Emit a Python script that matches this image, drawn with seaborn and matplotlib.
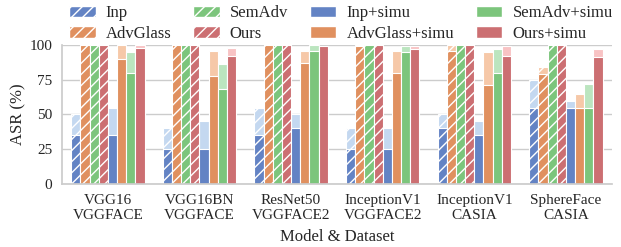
import pandas as pd
import matplotlib
matplotlib.use("Agg")
import matplotlib.pyplot as plt
import seaborn as sns
from matplotlib.patches import Patch

# --- Data ---
models = ["VGG16\nVGGFACE", "VGG16BN\nVGGFACE", "ResNet50\nVGGFACE2",
          "InceptionV1\nVGGFACE2", "InceptionV1\nCASIA", "SphereFace\nCASIA"]
methods = ["Inp", "AdvGlass", "SemAdv", "Ours",
           "Inp+simu", "AdvGlass+simu", "SemAdv+simu", "Ours+simu"]

# mean ASR (darker part)
mean_inp = [35, 25, 35, 25, 40, 55]
mean_advglass = [100, 100, 100, 99, 96, 79]
mean_semadv = [100, 100, 100, 100, 100, 100]
mean_ours = [100, 100, 100, 100, 100, 100]
mean_inp_simu = [35, 25, 40, 25, 35, 55]
mean_advglass_simu = [90, 78, 87, 80, 71, 55]
mean_semadv_simu = [80, 68, 96, 95, 80, 55]
mean_ours_simu = [98, 92, 99, 97, 92, 91]

# best ASR (lighter part on top)
max_inp = [50, 40, 55, 40, 50, 75]
max_advglass = [100, 100, 100, 100, 100, 84]
max_semadv = [100, 100, 100, 100, 100, 100]
max_ours = [100, 100, 100, 100, 100, 100]
max_inp_simu = [55, 45, 50, 40, 45, 60]
max_advglass_simu = [100, 96, 96, 96, 95, 65]
max_semadv_simu = [95, 86, 100, 99, 97, 72]
max_ours_simu = [100, 98, 99, 99, 99, 97]

mean_vals = [mean_inp, mean_advglass, mean_semadv, mean_ours,
             mean_inp_simu, mean_advglass_simu, mean_semadv_simu, mean_ours_simu]
max_vals = [max_inp, max_advglass, max_semadv, max_ours,
            max_inp_simu, max_advglass_simu, max_semadv_simu, max_ours_simu]

rows = []
for m, mv, xv in zip(methods, mean_vals, max_vals):
    for model, a, b in zip(models, mv, xv):
        rows.append({"model": model, "method": m, "mean": a, "max": b})
df = pd.DataFrame(rows)

# --- Style ---
sns.set_theme(style="whitegrid")
plt.rcParams["font.family"] = ["Liberation Serif", "DejaVu Serif"]
plt.rcParams["hatch.linewidth"] = 1.0

base4 = ["#6383c4", "#e0905f", "#7cc57c", "#cc6f72"]
light4 = ["#c4d8f0", "#f6c8a8", "#bbe5bf", "#f8c3c4"]
base_pal = base4 + base4
light_pal = light4 + light4

fig = plt.figure(figsize=(6.21, 2.47), dpi=100)
ax = fig.add_axes([0.1, 0.255, 0.885, 0.563])

sns.barplot(data=df, x="model", y="max", hue="method", hue_order=methods,
            palette=light_pal, width=0.8, errorbar=None, saturation=1,
            edgecolor="white", linewidth=0.8, legend=False, ax=ax)
sns.barplot(data=df, x="model", y="mean", hue="method", hue_order=methods,
            palette=base_pal, width=0.8, errorbar=None, saturation=1,
            edgecolor="white", linewidth=0.8, legend=False, ax=ax)

n = len(models)
bars = [p for p in ax.patches]
for layer in range(2):
    for h in range(4):  # first four methods are hatched
        for i in range(n):
            bars[layer * 8 * n + h * n + i].set_hatch("///")

ax.set_ylim(0, 100)
ax.set_yticks([0, 25, 50, 75, 100])
ax.set_xlabel("Model & Dataset", fontsize=12, labelpad=5)
ax.set_ylabel("ASR (%)", fontsize=12, labelpad=2)
ax.tick_params(axis="both", labelsize=11, pad=1)
sns.despine(ax=ax)

handles = []
for i, m in enumerate(methods):
    c = base_pal[i]
    if i < 4:
        handles.append(Patch(facecolor=c, edgecolor="white", hatch="///", label=m))
    else:
        handles.append(Patch(facecolor=c, edgecolor="white", label=m))
fig.legend(handles=handles, loc="upper right", bbox_to_anchor=(1.0, 1.012),
           ncol=4, frameon=False, fontsize=12, handlelength=1.6,
           columnspacing=1.3, labelspacing=0.25, handletextpad=0.6,
           borderaxespad=0.1)

fig.savefig("out.png", dpi=100)
